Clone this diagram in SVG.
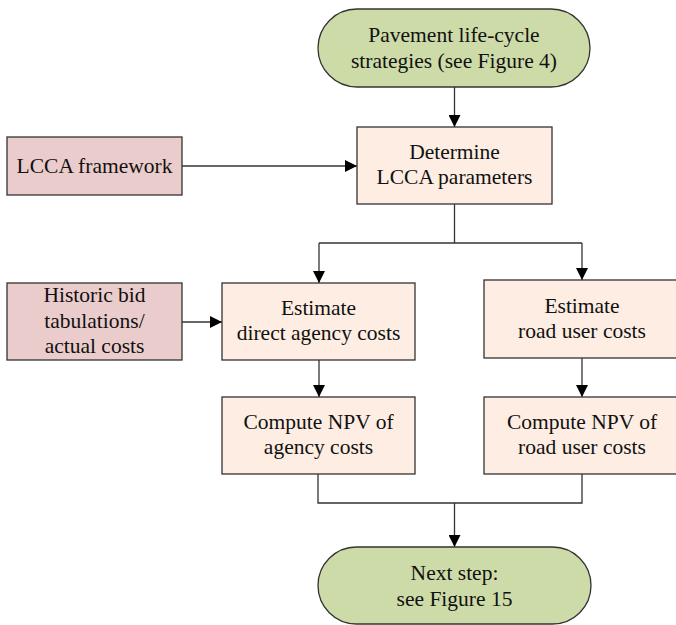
<svg xmlns="http://www.w3.org/2000/svg" width="676" height="625" viewBox="0 0 676 625" font-family="'Liberation Serif', 'Times New Roman', serif" font-size="21.5">
  <style>
    text { fill: #111; text-anchor: middle; }
    .term { fill: #cddba8; stroke: #333; stroke-width: 1.3; }
    .input { fill: #ebcccc; stroke: #333; stroke-width: 1.3; }
    .proc { fill: #fdede2; stroke: #333; stroke-width: 1.3; }
    .wire { fill: none; stroke: #333; stroke-width: 1.3; }
  </style>
  <defs>
    <marker id="arrow" viewBox="0 0 12 12" refX="12" refY="6" markerWidth="12" markerHeight="12" markerUnits="userSpaceOnUse" orient="auto">
      <path d="M0,0 L12,6 L0,12 Z" fill="#000"/>
    </marker>
  </defs>

  <rect width="676" height="625" fill="#fff"/>

  <g id="connectors">
    <path class="wire" d="M454.5,87 V127" marker-end="url(#arrow)"/>
    <path class="wire" d="M182,166 H357" marker-end="url(#arrow)"/>
    <path class="wire" d="M454.5,204 V243"/>
    <path class="wire" d="M319,243 H582"/>
    <path class="wire" d="M319,243 V283" marker-end="url(#arrow)"/>
    <path class="wire" d="M582,243 V280" marker-end="url(#arrow)"/>
    <path class="wire" d="M182,322 H222" marker-end="url(#arrow)"/>
    <path class="wire" d="M319,360 V397" marker-end="url(#arrow)"/>
    <path class="wire" d="M582,358 V397" marker-end="url(#arrow)"/>
    <path class="wire" d="M318,474 V503 H582 V474"/>
    <path class="wire" d="M454.5,503 V547" marker-end="url(#arrow)"/>
  </g>

  <g id="start">
    <rect class="term" x="318" y="9" width="272" height="78" rx="39" ry="39"/>
    <text x="454" y="42">Pavement life-cycle</text>
    <text x="454" y="68">strategies (see Figure 4)</text>
  </g>

  <g id="determine-params">
    <rect class="proc" x="357" y="127" width="195" height="77"/>
    <text x="454.5" y="159">Determine</text>
    <text x="454.5" y="184">LCCA parameters</text>
  </g>

  <g id="lcca-framework">
    <rect class="input" x="7" y="137" width="175" height="58"/>
    <text x="94.5" y="173">LCCA framework</text>
  </g>

  <g id="bid-tabulations">
    <rect class="input" x="7" y="283" width="175" height="77"/>
    <text x="94.5" y="302">Historic bid</text>
    <text x="94.5" y="328">tabulations/</text>
    <text x="94.5" y="353">actual costs</text>
  </g>

  <g id="agency-costs">
    <rect class="proc" x="222" y="283" width="193" height="77"/>
    <text x="318.5" y="315">Estimate</text>
    <text x="318.5" y="340">direct agency costs</text>
  </g>

  <g id="user-costs">
    <rect class="proc" x="484" y="280" width="196" height="78"/>
    <text x="582" y="313">Estimate</text>
    <text x="582" y="338">road user costs</text>
  </g>

  <g id="agency-npv">
    <rect class="proc" x="222" y="397" width="193" height="77"/>
    <text x="318.5" y="429">Compute NPV of</text>
    <text x="318.5" y="454">agency costs</text>
  </g>

  <g id="user-npv">
    <rect class="proc" x="484" y="397" width="196" height="77"/>
    <text x="582" y="429">Compute NPV of</text>
    <text x="582" y="454">road user costs</text>
  </g>

  <g id="next-step">
    <rect class="term" x="318" y="547" width="273" height="77" rx="38.5" ry="38.5"/>
    <text x="454.5" y="580">Next step:</text>
    <text x="454.5" y="606">see Figure 15</text>
  </g>
</svg>
